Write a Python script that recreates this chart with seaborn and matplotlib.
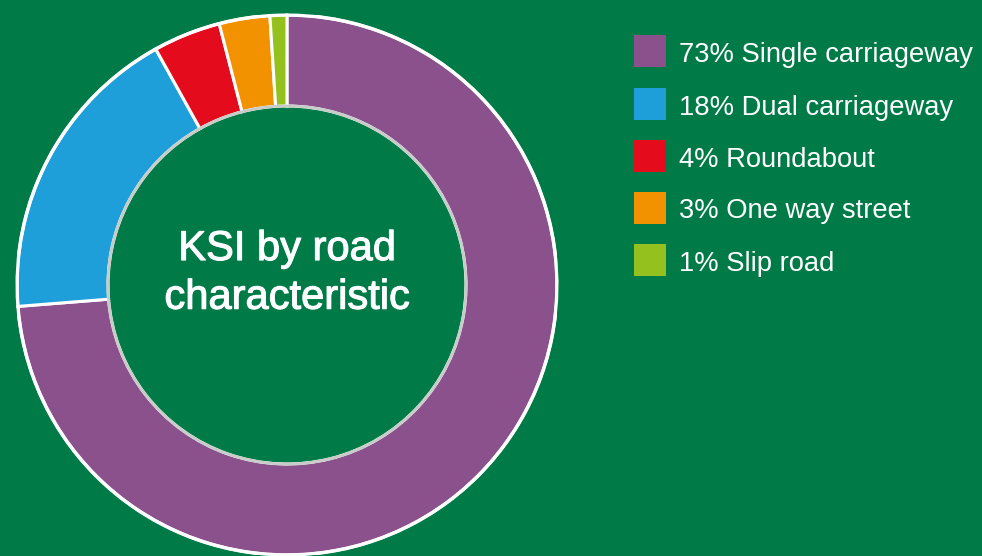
import matplotlib
matplotlib.use("Agg")
import matplotlib.pyplot as plt
import seaborn as sns
import matplotlib.patheffects as pe
from matplotlib.patches import Rectangle, Circle

categories = ["Single carriageway", "Dual carriageway", "Roundabout", "One way street", "Slip road"]
values = [73, 18, 4, 3, 1]
colors = ["#8A518C", "#1E9FDA", "#E30B1C", "#F39200", "#95C11F"]
title_text = "KSI by road\ncharacteristic"

sns.set_theme(style="white")
plt.rcParams['font.family'] = ['Liberation Sans', 'DejaVu Sans']

BG = "#007B47"
W, H = 982, 556
fig = plt.figure(figsize=(W / 100, H / 100), dpi=100, facecolor=BG)

cx, cy, R = 287, 285, 270
ax = fig.add_axes([(cx - R) / W, (H - cy - R) / H, 2 * R / W, 2 * R / H])
ax.set_facecolor(BG)
palette = sns.color_palette(colors)
wedges, _ = ax.pie(values, colors=palette, startangle=90, counterclock=False,
                   radius=1.0,
                   wedgeprops=dict(width=0.337, edgecolor="white", linewidth=2.2))
ax.add_patch(Circle((0, 0), 1.0, fill=False, edgecolor="white", linewidth=2.5, zorder=5))
ax.add_patch(Circle((0, 0), 0.663, fill=False, edgecolor="#C8CCC9", linewidth=2.0, zorder=5))
ax.set_xlim(-1, 1)
ax.set_ylim(-1, 1)
ax.set_aspect("equal")
ax.axis("off")

ax.text(0, 0.043, title_text, ha="center", va="center", color="white",
        fontsize=30, linespacing=1.28,
        path_effects=[pe.withStroke(linewidth=0.8, foreground="white")])

# legend
centers = [51, 103.5, 156, 207.5, 260]
sq = 32
for c, lab, v, col in zip(centers, categories, values, palette):
    fig.add_artist(Rectangle((634 / W, (H - c - sq / 2) / H), sq / W, sq / H,
                             transform=fig.transFigure, facecolor=col, edgecolor="none"))
    fig.text(679 / W, (H - c - 11) / H, f"{v}% {lab}", color="white",
             fontsize=19.7, ha="left", va="baseline")

fig.savefig("out.png", dpi=100, facecolor=BG)
